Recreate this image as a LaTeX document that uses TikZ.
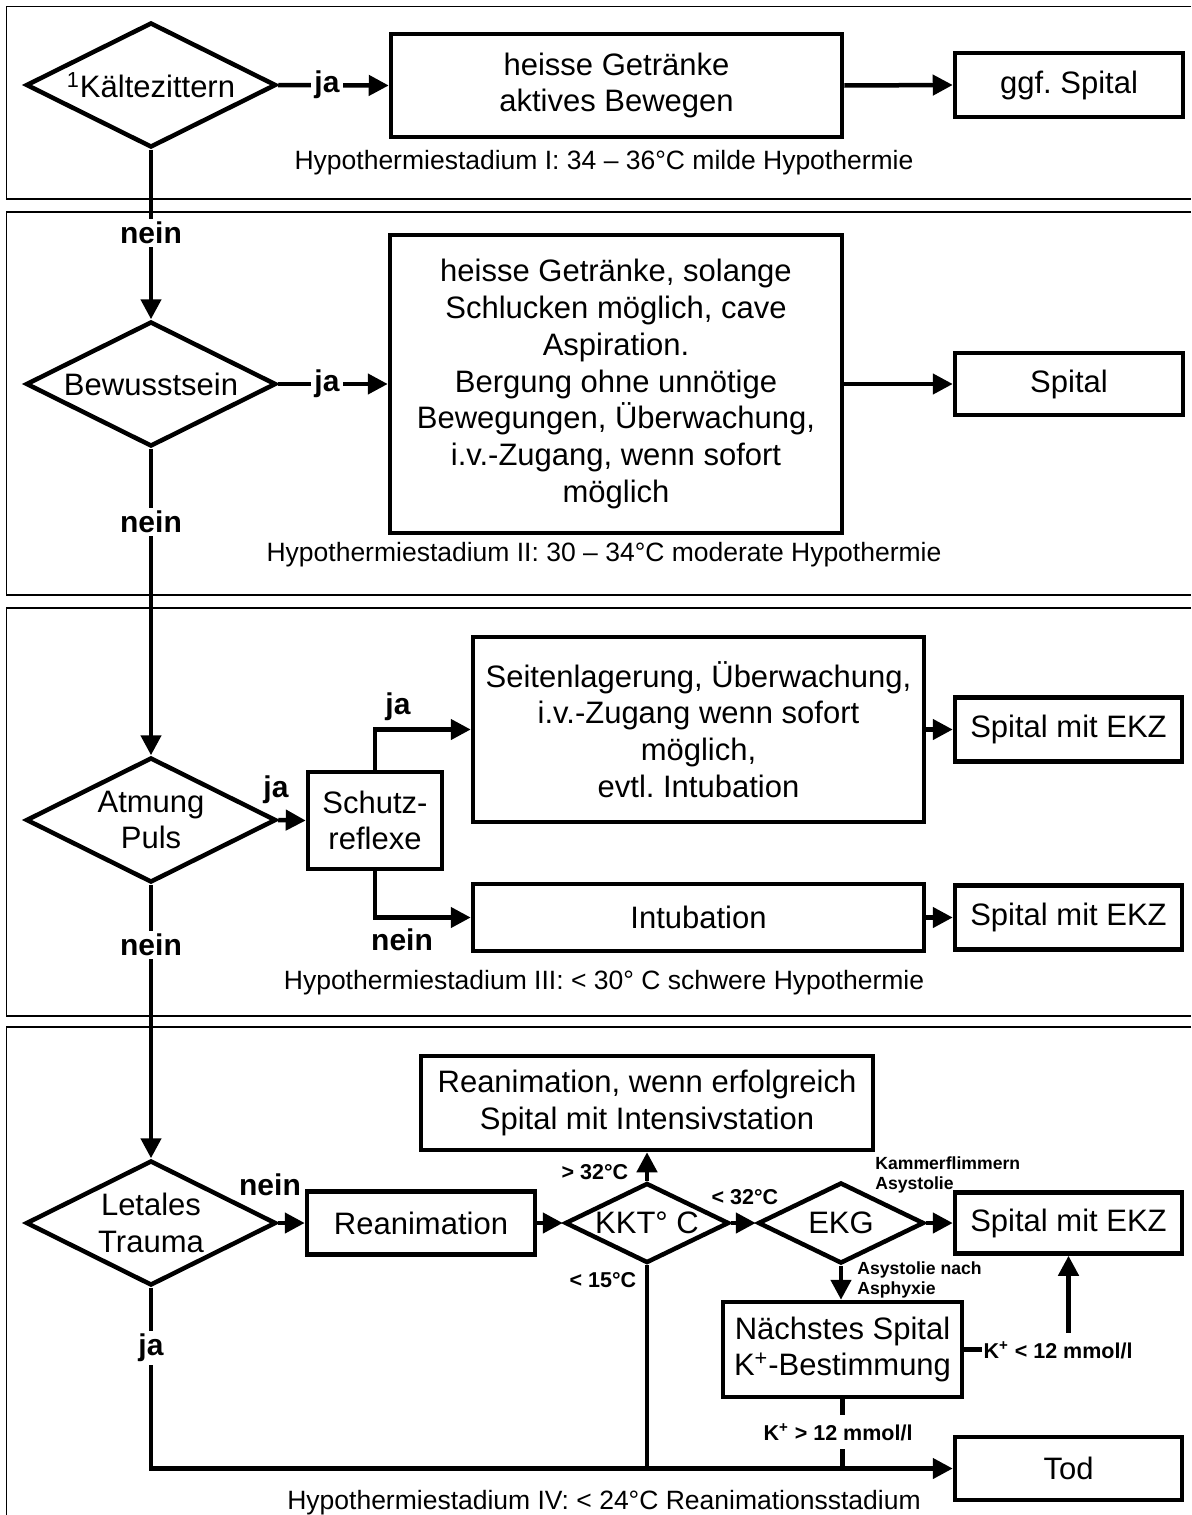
\documentclass[tikz,border=0pt]{standalone}
\usepackage{fontspec}
\setmainfont{Liberation Sans}
\usetikzlibrary{shapes.geometric,arrows.meta}
\frenchspacing
\newcommand{\mainf}{\fontsize{15.5}{18.4}\selectfont}
\newcommand{\labf}{\fontsize{15}{18}\selectfont\bfseries}
\newcommand{\capf}{\fontsize{13.25}{16}\selectfont}
\newcommand{\tempf}{\fontsize{10.75}{13}\selectfont\bfseries}
\newcommand{\smallf}{\fontsize{8.8}{10}\selectfont\bfseries}
\tikzset{
  box/.style={draw, line width=2.25pt, rectangle, inner sep=0pt, align=center, font=\mainf},
  dia/.style={draw, line width=2.25pt, diamond, aspect=2, inner sep=0pt, align=center, font=\mainf},
  arr/.style={line width=2.25pt, -{Triangle[length=10pt,width=10pt]}},
  ln/.style={line width=2.25pt},
  lab/.style={font=\labf, inner sep=1.5pt, fill=white},
  labn/.style={font=\labf, inner sep=1pt},
  tlab/.style={font=\tempf, inner sep=1pt},
  tlabw/.style={font=\tempf, inner xsep=1pt, inner ysep=4pt, fill=white},
  small/.style={font=\smallf, align=left, inner sep=0pt},
  frm/.style={line width=0.8pt},
  capt/.style={font=\capf, inner sep=0pt},
}
\begin{document}
\begin{tikzpicture}[x=0.5pt,y=-0.5pt]
\useasboundingbox (0,0) rectangle (1191,1515);
% frames
\draw[frm] (1191,6.5) -- (6.5,6.5) -- (6.5,199) -- (1191,199);
\draw[frm] (1191,212) -- (6.5,212) -- (6.5,595) -- (1191,595);
\draw[frm] (1191,608) -- (6.5,608) -- (6.5,1016) -- (1191,1016);
\draw[frm] (1191,1027) -- (6.5,1027) -- (6.5,1520);

% frame 1
\node[dia, minimum width=125pt, minimum height=62.5pt] (d1) at (151,85) {\textsuperscript{1}Kältezittern};
\node[box, minimum width=225.5pt, minimum height=51.5pt] (b1) at (616.5,85.5) {heisse Getränke\\aktives Bewegen};
\node[box, minimum width=114pt, minimum height=32pt] (s1) at (1069,85) {ggf. Spital};
\node[capt] (c1) at (604,163) {Hypothermiestadium I: 34 – 36°C milde Hypothermie};

% frame 2
\node[dia, minimum width=125pt, minimum height=62.5pt] (d2) at (151,384) {Bewusstsein};
\node[box, minimum width=226pt, minimum height=149pt] (b2) at (616,384) {heisse Getränke, solange\\Schlucken möglich, cave\\Aspiration.\\Bergung ohne unnötige\\Bewegungen, Überwachung,\\i.v.-Zugang, wenn sofort\\möglich};
\node[box, minimum width=114pt, minimum height=31pt] (s2) at (1069,384) {Spital};
\node[capt] (c2) at (604,555) {Hypothermiestadium II: 30 – 34°C moderate Hypothermie};

% frame 3
\node[dia, minimum width=125pt, minimum height=62.5pt] (d3) at (151,820) {Atmung\\Puls};
\node[box, minimum width=67pt, minimum height=48.5pt] (sr) at (375,820.5) {Schutz-\\reflexe};
\node[box, minimum width=225.5pt, minimum height=92.5pt] (b3a) at (698.5,729.5) {Seitenlagerung, Überwachung,\\i.v.-Zugang wenn sofort\\möglich,\\evtl. Intubation};
\node[box, minimum width=225.5pt, minimum height=33.5pt] (b3b) at (698.5,917.5) {Intubation};
\node[box, minimum width=113.5pt, minimum height=32pt] (s3a) at (1068.5,729.5) {Spital mit EKZ};
\node[box, minimum width=113.5pt, minimum height=32pt] (s3b) at (1068.5,917.5) {Spital mit EKZ};
\node[capt] (c3) at (604,983) {Hypothermiestadium III: < 30° C schwere Hypothermie};

% frame 4
\node[dia, minimum width=125pt, minimum height=62.5pt] (d4) at (151,1223) {Letales\\Trauma};
\node[box, minimum width=114pt, minimum height=31.5pt] (rea) at (421,1223) {Reanimation};
\node[dia, aspect=2.05, minimum width=82pt, minimum height=40pt] (kkt) at (647,1223) {KKT° C};
\node[dia, aspect=2.05, minimum width=83pt, minimum height=40.5pt] (ekg) at (841,1223) {EKG};
\node[box, minimum width=226pt, minimum height=47pt] (top4) at (647,1103) {Reanimation, wenn erfolgreich\\Spital mit Intensivstation};
\node[box, minimum width=113.5pt, minimum height=30.5pt] (s4) at (1068.5,1223) {Spital mit EKZ};
\node[box, minimum width=119.5pt, minimum height=47.5pt] (ns) at (842.5,1349.5) {Nächstes Spital\\K\textsuperscript{+}-Bestimmung};
\node[box, minimum width=113.5pt, minimum height=31.5pt] (tod) at (1068.5,1468.5) {Tod};
\node[capt] (c4) at (604,1503) {Hypothermiestadium IV: < 24°C Reanimationsstadium};

% connectors
\draw[arr] (d1.east) -- (b1.west);
\draw[arr] (b1.east) -- (s1.west);
\draw[arr] (d1.south) -- (d2.north);
\draw[arr] (d2.east) -- (b2.west);
\draw[arr] (b2.east) -- (s2.west);
\draw[arr] (d2.south) -- (d3.north);
\draw[arr] (d3.east) -- (sr.west);
\draw[arr] (sr.north) |- (b3a.west);
\draw[arr] (sr.south) |- (b3b.west);
\draw[arr] (b3a.east) -- (s3a.west);
\draw[arr] (b3b.east) -- (s3b.west);
\draw[arr] (d3.south) -- (d4.north);
\draw[arr] (d4.east) -- (rea.west);
\draw[arr] (rea.east) -- (kkt.west);
\draw[arr] (kkt.north) -- (top4.south);
\draw[arr] (kkt.east) -- (ekg.west);
\draw[arr] (ekg.east) -- (s4.west);
\draw[arr] (ekg.south) -- (ekg.south |- ns.north);
\draw[arr] (ns.east) -| (s4.south);
\draw[arr] (d4.south) |- (tod.west);
\draw[ln] (kkt.south) -- (kkt.south |- tod.west);
\draw[ln] (ns.south) -- (ns.south |- tod.west);

% labels
\node[lab] (l1) at (327,85) {ja};
\node[lab] (l2) at (151,233) {nein};
\node[lab] (l3) at (327,384) {ja};
\node[lab] (l4) at (151,522) {nein};
\node[labn] (l5) at (276,790) {ja};
\node[labn] (l6) at (398,707) {ja};
\node[labn] (l7) at (402,940) {nein};
\node[lab] (l8) at (151,945) {nein};
\node[labn] (l9) at (270,1185) {nein};
\node[lab] (l10) at (151,1348) {ja};
\node[tlab] (t1) at (595,1172) {> 32°C};
\node[tlab] (t2) at (745,1197) {< 32°C};
\node[tlab] (t3) at (603,1280) {< 15°C};
\node[small, anchor=west] (k1) at (875,1175) {Kammerflimmern\\Asystolie};
\node[small, anchor=west] (k2) at (857,1280) {Asystolie nach\\Asphyxie};
\node[tlabw] (t4) at (1058,1350) {K\textsuperscript{+} < 12 mmol/l};
\node[tlabw] (t5) at (838,1432) {K\textsuperscript{+} > 12 mmol/l};
\end{tikzpicture}
\end{document}
